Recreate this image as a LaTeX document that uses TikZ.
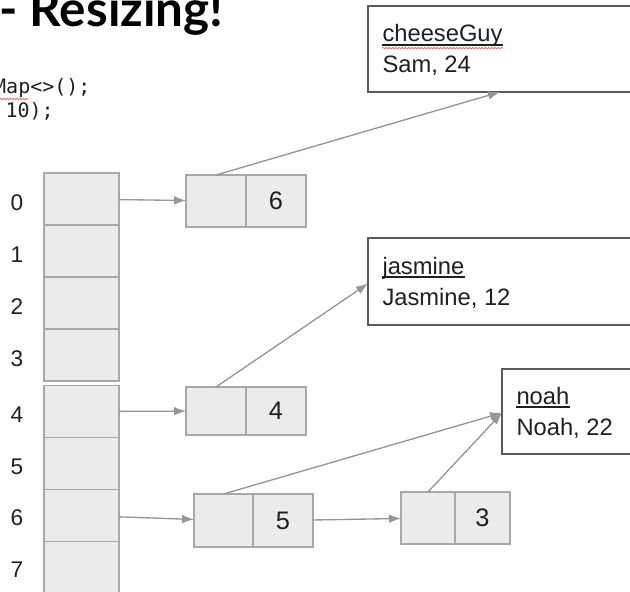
\documentclass[tikz,border=0pt]{standalone}
\usepackage{fontspec}
\setmainfont{Liberation Sans}
\setmonofont{DejaVu Sans Mono}
\newfontfamily\titlefont{Lato}
\usetikzlibrary{arrows.meta,decorations.pathmorphing}

\definecolor{slotfill}{HTML}{EBEBEB}
\definecolor{slotline}{HTML}{A8A8A8}
\definecolor{arrowgray}{HTML}{969696}
\definecolor{boxline}{HTML}{5A5A5A}
\definecolor{inkgray}{HTML}{202020}
\definecolor{spellred}{HTML}{E57373}

\tikzset{every picture/.style={line width=0.75pt}}
\tikzset{
  slot/.style={draw=slotline, fill=slotfill, line width=1.1pt, minimum width=56.25pt, minimum height=39pt, inner sep=0pt, outer sep=0pt},
  half/.style={draw=slotline, fill=slotfill, line width=1.1pt, minimum width=45pt, minimum height=39pt, inner sep=0pt, outer sep=0pt, text=inkgray, font=\fontsize{19}{22}\selectfont},
  entry/.style={draw=boxline, fill=white, line width=1.1pt, inner sep=0pt, outer sep=0pt},
  idxtext/.style={inner sep=0pt, text=inkgray, font=\fontsize{17}{20}\selectfont},
  boxtext/.style={anchor=base west, inner sep=0pt, text=inkgray, font=\fontsize{17.8}{21}\selectfont},
  codetext/.style={inner sep=0pt, text=inkgray, font=\ttfamily\fontsize{15}{18}\selectfont},
  titletext/.style={inner sep=0pt, text=black, font=\titlefont\bfseries\fontsize{37}{42}\selectfont},
  keyline/.style={draw=inkgray, line width=1.4pt},
  squiggle/.style={draw=spellred, line width=0.6pt, decorate, decoration={snake, amplitude=0.6pt, segment length=2.4pt}},
  link/.style={draw=arrowgray, line width=1pt, -{Latex[length=9pt,width=6.5pt]}},
}

\begin{document}
\begin{tikzpicture}[x=0.75pt,y=0.75pt,yscale=-1,xscale=1]
	\path[use as bounding box, clip] (0,0) rectangle (630,591);

	% Text Node
	\node[titletext, anchor=base west] (title) at (-1,27) {- Resizing!};
	% Text Node
	\node[codetext, anchor=base east] (codea) at (91,94) {Map<>();};
	% Text Node
	\node[codetext, anchor=base west] (codeb) at (5,118) {10);};
	%Curve Lines
	\draw[squiggle] (0,99) -- (28,99);

	%Shape: Rectangle (table slots)
	\node[slot] (s0) at (81.5,199) {};
	\node[slot] (s1) at (81.5,251) {};
	\node[slot] (s2) at (81.5,303) {};
	\node[slot] (s3) at (81.5,355) {};
	\node[slot] (s4) at (81.5,411.5) {};
	\node[slot] (s5) at (81.5,463.5) {};
	\node[slot] (s6) at (81.5,515.5) {};
	\node[slot] (s7) at (81.5,567.5) {};

	% Text Node
	\node[idxtext] (i0) at (17,203) {0};
	\node[idxtext] (i1) at (17,255) {1};
	\node[idxtext] (i2) at (17,307) {2};
	\node[idxtext] (i3) at (17,359) {3};
	\node[idxtext] (i4) at (17,415) {4};
	\node[idxtext] (i5) at (17,467) {5};
	\node[idxtext] (i6) at (17,518) {6};
	\node[idxtext] (i7) at (17,570) {7};

	%Shape: Rectangle (list nodes)
	\node[half] (n0a) at (216,201) {};
	\node[half] (n0b) at (276,201) {6};
	\node[half, minimum height=36pt] (n4a) at (216,411) {};
	\node[half, minimum height=36pt] (n4b) at (276,411) {4};
	\node[half, minimum width=44.25pt, minimum height=39.75pt] (n5a) at (223.5,520.5) {};
	\node[half, minimum height=39.75pt] (n5b) at (283,520.5) {5};
	\node[half, minimum width=40.5pt] (n3a) at (428,518) {};
	\node[half, minimum width=41.25pt] (n3b) at (482.5,518) {3};

	%Shape: Rectangle (entries)
	\node[entry, minimum width=204pt, minimum height=64.5pt] (cheese) at (504,49) {};
	\node[entry, minimum width=204pt, minimum height=65.25pt] (jasmine) at (504,281.5) {};
	\node[entry, minimum width=103.5pt, minimum height=63.75pt] (noah) at (571,411.5) {};

	% Text Node
	\node[boxtext] (cheesekey) at (382,42) {cheeseGuy};
	\node[boxtext] (cheeseval) at (382,73) {Sam, 24};
	\draw[keyline] ([yshift=2.5pt]cheesekey.base west) -- ([yshift=2.5pt]cheesekey.base east);
	\draw[squiggle] ([yshift=4.6pt]cheesekey.base west) -- ([yshift=4.6pt]cheesekey.base east);
	% Text Node
	\node[boxtext] (jasminekey) at (382,274) {jasmine};
	\node[boxtext] (jasmineval) at (382,305) {Jasmine, 12};
	\draw[keyline] ([yshift=2.5pt]jasminekey.base west) -- ([yshift=2.5pt]jasminekey.base east);
	% Text Node
	\node[boxtext] (noahkey) at (516,404) {noah};
	\node[boxtext] (noahval) at (516,435) {Noah, 22};
	\draw[keyline] ([yshift=2.5pt]noahkey.base west) -- ([yshift=2.5pt]noahkey.base east);

	%Straight Lines
	\draw[link] (s0) -- (n0a);
	\draw[link] (s4) -- (n4a);
	\draw[link] (s6) -- (n5a);
	\draw[link] (n5b) -- (n3a);
	\draw[link] (n0a.north) -- ([xshift=-3pt]cheese.south);
	\draw[link] (n4a.north) -- ([yshift=1.5pt]jasmine.west);
	\draw[link] (n5a.north) -- ([yshift=1pt]noah.west);
	\draw[link] (n3a.north) -- ([yshift=1pt]noah.west);

\end{tikzpicture}
\end{document}
